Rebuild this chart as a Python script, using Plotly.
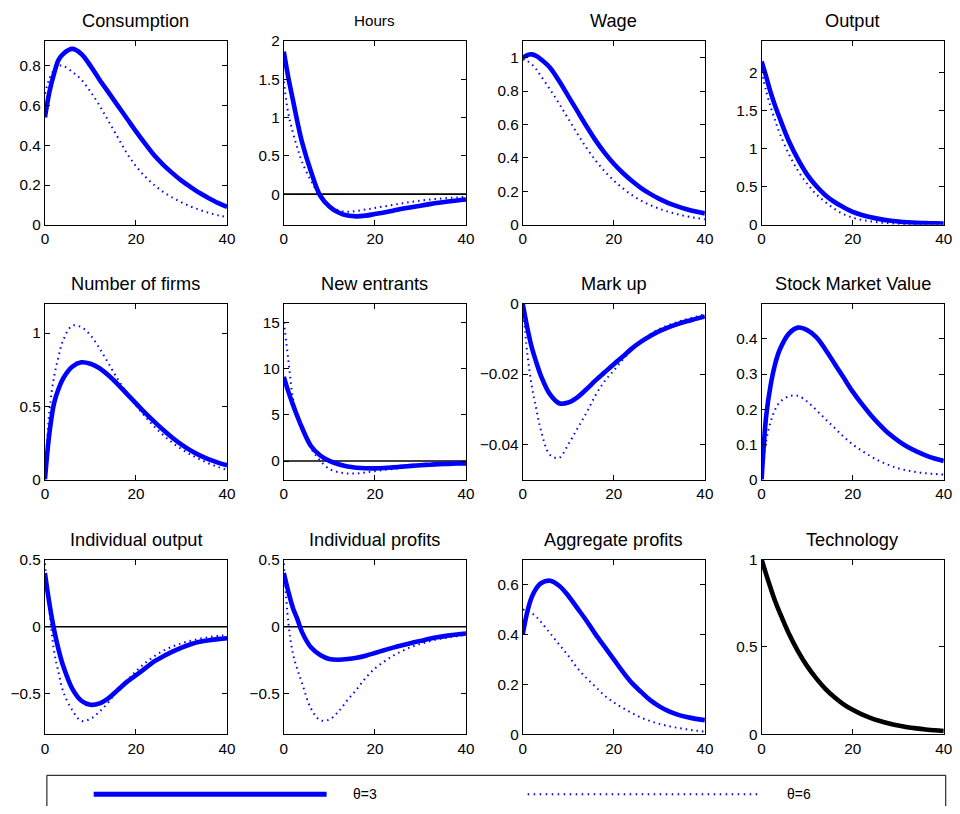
import plotly.graph_objects as go

PERIODS = [0, 1, 2, 3, 4, 6, 8, 10, 12, 14, 16, 18, 20, 22, 24, 26, 28, 30, 32, 34, 36, 38, 40]

TITLES = ["Consumption", "Hours", "Wage", "Output",
          "Number of firms", "New entrants", "Mark up", "Stock Market Value",
          "Individual output", "Individual profits", "Aggregate profits", "Technology"]

LEGEND_LABELS = ["θ=3", "θ=6"]

cons_3 = [0.54, 0.67, 0.76, 0.83, 0.86, 0.885, 0.86, 0.80, 0.73, 0.665, 0.60, 0.535, 0.47, 0.408, 0.35, 0.302, 0.26, 0.222, 0.19, 0.16, 0.134, 0.11, 0.09]
cons_6 = [0.66, 0.735, 0.78, 0.80, 0.80, 0.77, 0.73, 0.67, 0.60, 0.52, 0.44, 0.36, 0.295, 0.243, 0.20, 0.165, 0.137, 0.113, 0.092, 0.075, 0.06, 0.048, 0.038]

hours_3 = [1.86, 1.52, 1.23, 0.94, 0.68, 0.29, -0.02, -0.16, -0.24, -0.28, -0.29, -0.28, -0.26, -0.24, -0.215, -0.19, -0.17, -0.15, -0.13, -0.112, -0.096, -0.082, -0.07]
hours_6 = [1.47, 1.05, 0.80, 0.60, 0.42, 0.17, -0.03, -0.15, -0.21, -0.23, -0.22, -0.20, -0.18, -0.16, -0.14, -0.12, -0.10, -0.085, -0.07, -0.06, -0.05, -0.042, -0.035]

wage_3 = [1.0, 1.015, 1.02, 1.01, 0.99, 0.94, 0.86, 0.77, 0.68, 0.59, 0.505, 0.43, 0.365, 0.31, 0.262, 0.22, 0.185, 0.155, 0.13, 0.11, 0.093, 0.079, 0.068]
wage_6 = [0.99, 0.98, 0.96, 0.93, 0.89, 0.81, 0.725, 0.635, 0.545, 0.46, 0.385, 0.32, 0.265, 0.218, 0.178, 0.145, 0.118, 0.096, 0.078, 0.063, 0.051, 0.041, 0.033]

output_3 = [2.15, 1.95, 1.74, 1.56, 1.40, 1.10, 0.86, 0.66, 0.51, 0.39, 0.30, 0.23, 0.17, 0.13, 0.10, 0.075, 0.057, 0.044, 0.034, 0.027, 0.022, 0.019, 0.017]
output_6 = [2.02, 1.76, 1.55, 1.37, 1.20, 0.93, 0.71, 0.54, 0.40, 0.30, 0.21, 0.14, 0.095, 0.065, 0.045, 0.03, 0.02, 0.014, 0.01, 0.007, 0.005, 0.004, 0.003]

firms_3 = [0.0, 0.32, 0.52, 0.62, 0.69, 0.77, 0.80, 0.79, 0.76, 0.71, 0.65, 0.585, 0.52, 0.455, 0.395, 0.338, 0.285, 0.238, 0.198, 0.165, 0.138, 0.116, 0.098]
firms_6 = [0.0, 0.47, 0.70, 0.84, 0.95, 1.05, 1.04, 0.985, 0.895, 0.79, 0.685, 0.59, 0.505, 0.43, 0.362, 0.303, 0.252, 0.208, 0.17, 0.138, 0.11, 0.086, 0.065]

entrants_3 = [9.1, 7.5, 6.1, 4.8, 3.6, 1.6, 0.6, 0.02, -0.35, -0.6, -0.72, -0.78, -0.79, -0.75, -0.68, -0.6, -0.52, -0.45, -0.39, -0.34, -0.3, -0.27, -0.25]
entrants_6 = [15.0, 10.9, 6.8, 4.7, 3.5, 1.35, 0.05, -0.85, -1.2, -1.34, -1.34, -1.22, -1.1, -0.96, -0.84, -0.73, -0.63, -0.55, -0.49, -0.44, -0.39, -0.35, -0.32]

markup_3 = [0.0, -0.0068, -0.0125, -0.0167, -0.0205, -0.0258, -0.0283, -0.0281, -0.0266, -0.0243, -0.0218, -0.0195, -0.0172, -0.015, -0.0127, -0.0108, -0.0092, -0.0078, -0.0067, -0.0058, -0.005, -0.0043, -0.0036]
markup_6 = [0.0, -0.014, -0.0235, -0.030, -0.036, -0.043, -0.0438, -0.040, -0.0355, -0.031, -0.026, -0.022, -0.019, -0.0158, -0.013, -0.0107, -0.0087, -0.0072, -0.0061, -0.0052, -0.0044, -0.0037, -0.003]

smv_3 = [0.0, 0.18, 0.27, 0.33, 0.37, 0.415, 0.432, 0.425, 0.405, 0.37, 0.33, 0.29, 0.25, 0.215, 0.183, 0.155, 0.13, 0.11, 0.093, 0.08, 0.069, 0.06, 0.053]
smv_6 = [0.0, 0.11, 0.165, 0.2, 0.22, 0.237, 0.238, 0.222, 0.198, 0.172, 0.147, 0.122, 0.1, 0.082, 0.066, 0.052, 0.041, 0.032, 0.026, 0.021, 0.018, 0.016, 0.014]

indout_3 = [0.40, 0.17, -0.02, -0.17, -0.29, -0.46, -0.55, -0.58, -0.57, -0.53, -0.47, -0.41, -0.36, -0.31, -0.258, -0.22, -0.185, -0.155, -0.13, -0.112, -0.1, -0.092, -0.085]
indout_6 = [0.47, 0.12, -0.18, -0.34, -0.48, -0.62, -0.70, -0.685, -0.63, -0.56, -0.465, -0.40, -0.33, -0.27, -0.22, -0.178, -0.147, -0.123, -0.104, -0.089, -0.077, -0.068, -0.062]

indprof_3 = [0.40, 0.26, 0.14, 0.055, -0.04, -0.155, -0.21, -0.24, -0.245, -0.24, -0.23, -0.215, -0.195, -0.175, -0.155, -0.137, -0.12, -0.105, -0.09, -0.077, -0.066, -0.057, -0.05]
indprof_6 = [0.47, 0.03, -0.2, -0.32, -0.42, -0.61, -0.695, -0.69, -0.63, -0.545, -0.465, -0.38, -0.31, -0.26, -0.215, -0.18, -0.15, -0.128, -0.108, -0.092, -0.08, -0.07, -0.062]

aggprof_3 = [0.40, 0.49, 0.55, 0.585, 0.605, 0.615, 0.595, 0.555, 0.505, 0.455, 0.40, 0.35, 0.30, 0.25, 0.205, 0.17, 0.137, 0.112, 0.093, 0.079, 0.069, 0.062, 0.057]
aggprof_6 = [0.50, 0.495, 0.485, 0.47, 0.45, 0.405, 0.36, 0.315, 0.265, 0.225, 0.19, 0.155, 0.128, 0.105, 0.085, 0.067, 0.053, 0.042, 0.033, 0.026, 0.02, 0.015, 0.011]

technology = [1.0, 0.915, 0.835, 0.76, 0.695, 0.575, 0.475, 0.39, 0.32, 0.26, 0.212, 0.172, 0.14, 0.114, 0.093, 0.076, 0.062, 0.05, 0.041, 0.034, 0.028, 0.023, 0.019]

SERIES_3 = [cons_3, hours_3, wage_3, output_3, firms_3, entrants_3, markup_3, smv_3,
            indout_3, indprof_3, aggprof_3, technology]
SERIES_6 = [cons_6, hours_6, wage_6, output_6, firms_6, entrants_6, markup_6, smv_6,
            indout_6, indprof_6, aggprof_6, None]

Y_RANGES = [[0, 0.925], [-0.4, 2], [0, 1.1], [0, 2.42],
            [0, 1.2], [-2, 17], [-0.05, 0], [0, 0.5],
            [-0.8, 0.5], [-0.8, 0.5], [0, 0.7], [0, 1]]
Y_TICKS = [[0, 0.2, 0.4, 0.6, 0.8], [0, 0.5, 1, 1.5, 2], [0, 0.2, 0.4, 0.6, 0.8, 1], [0, 0.5, 1, 1.5, 2],
           [0, 0.5, 1], [0, 5, 10, 15], [-0.04, -0.02, 0], [0, 0.1, 0.2, 0.3, 0.4],
           [-0.5, 0, 0.5], [-0.5, 0, 0.5], [0, 0.2, 0.4, 0.6], [0, 0.5, 1]]
X_TICKS = [0, 20, 40]
ZERO_LINE_PANELS = [1, 5, 8, 9]

W, H = 960, 814
# the photographed page is slightly shrunk and offset; compensate so the
# picture lands on the target pixel positions
SX, OX = 0.991, 1.9
SY, OY = 0.980, 8.0


def px(x):
    return ((x - OX) / SX) / W


def py(y):
    return 1 - ((y - OY) / SY) / H


COLS_PX = [(43, 226), (283, 466), (523, 706), (763, 946)]
ROWS_PX = [(40, 224), (303, 479), (559, 734)]
TITLE_Y_PX = [20, 283, 539]

FONT = "Liberation Sans, Arial, Helvetica, sans-serif"
NARROW = "Liberation Sans Narrow, " + FONT
BLUE = "#0000FF"
TICK_SIZE = 15.3

fig = go.Figure()
layout = dict(
    width=W, height=H,
    margin=dict(l=0, r=0, t=0, b=0),
    paper_bgcolor="white", plot_bgcolor="white",
    showlegend=False,
    font=dict(family=FONT, size=TICK_SIZE, color="black"),
)
annotations = []
shapes = []

for i in range(12):
    r, c = divmod(i, 4)
    n = i + 1
    xa = "x" if n == 1 else f"x{n}"
    ya = "y" if n == 1 else f"y{n}"
    x0, x1 = COLS_PX[c]
    y0, y1 = ROWS_PX[r]
    axis_common = dict(showline=True, linecolor="black", linewidth=1, mirror="ticks",
                       ticks="inside", ticklen=5, tickcolor="black", showgrid=False,
                       zeroline=False, tickfont=dict(size=TICK_SIZE, family=FONT, color="black"))
    layout[f"xaxis{n}"] = dict(domain=[px(x0), px(x1)], range=[0, 40], tickvals=X_TICKS,
                               anchor=ya, **axis_common)
    layout[f"yaxis{n}"] = dict(domain=[py(y1), py(y0)], range=Y_RANGES[i],
                               tickvals=Y_TICKS[i], anchor=xa, **axis_common)

    if i in ZERO_LINE_PANELS:
        fig.add_trace(go.Scatter(x=[X_TICKS[0], X_TICKS[-1]], y=[0, 0], mode="lines",
                                 line=dict(color="black", width=1.6), xaxis=xa, yaxis=ya,
                                 hoverinfo="skip"))
    if SERIES_6[i] is not None:
        fig.add_trace(go.Scatter(x=PERIODS, y=SERIES_6[i], mode="lines", name=LEGEND_LABELS[1],
                                 line=dict(color=BLUE, width=2, dash="1.5px,4px", shape="spline",
                                           smoothing=1.0),
                                 xaxis=xa, yaxis=ya))
    color = "black" if SERIES_6[i] is None else BLUE
    fig.add_trace(go.Scatter(x=PERIODS, y=SERIES_3[i], mode="lines", name=LEGEND_LABELS[0],
                             line=dict(color=color, width=4.6, shape="spline", smoothing=1.0),
                             xaxis=xa, yaxis=ya))

    annotations.append(dict(text=TITLES[i], x=px((x0 + x1) / 2), y=py(TITLE_Y_PX[r]),
                            xref="paper", yref="paper", xanchor="center", yanchor="middle",
                            showarrow=False,
                            font=dict(size=15.2 if TITLES[i] == "Hours" else 18.2, family=FONT,
                                      color="black")))

# legend box below the panels (its lower edge lies outside the picture)
box_top = py(775)
shapes.append(dict(type="path", xref="paper", yref="paper",
                   path=f"M {px(45)},0 L {px(45)},{box_top} L {px(948)},{box_top} L {px(948)},0",
                   line=dict(color="black", width=1)))
shapes.append(dict(type="line", xref="paper", yref="paper", x0=px(92), x1=px(326),
                   y0=py(794), y1=py(794), line=dict(color=BLUE, width=5)))
shapes.append(dict(type="line", xref="paper", yref="paper", x0=px(528), x1=px(760),
                   y0=py(794), y1=py(794), line=dict(color=BLUE, width=2, dash="1.5px,4.5px")))
annotations.append(dict(text=LEGEND_LABELS[0], x=px(350), y=py(794), xref="paper", yref="paper",
                        xanchor="left", yanchor="middle", showarrow=False,
                        font=dict(size=14, family=NARROW, color="black")))
annotations.append(dict(text=LEGEND_LABELS[1], x=px(786), y=py(794), xref="paper", yref="paper",
                        xanchor="left", yanchor="middle", showarrow=False,
                        font=dict(size=14, family=NARROW, color="black")))

layout["annotations"] = annotations
layout["shapes"] = shapes
fig.update_layout(**layout)

fig.write_html("out.html", config={"displayModeBar": False},
               post_script="document.body.style.margin='0';")
